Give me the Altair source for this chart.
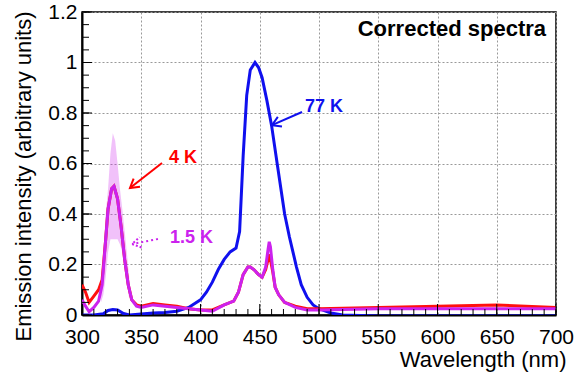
import altair as alt
import pandas as pd

FONT = "Liberation Sans"

# ---- 77 K spectrum (blue)
wl_77 = [300, 310, 318, 322, 326, 330, 335, 340, 350, 360, 370, 380, 390, 400, 405, 410,
         415, 420, 425, 430, 433, 436, 439, 442, 446, 449, 452, 456, 460, 465, 471, 475,
         478, 481, 485, 490, 495, 500, 510, 520, 550, 600, 650, 700]
int_77 = [0.0, 0.0, 0.005, 0.018, 0.022, 0.02, 0.006, 0.0, 0.004, 0.008, 0.01, 0.015, 0.03,
          0.06, 0.09, 0.13, 0.18, 0.22, 0.25, 0.265, 0.33, 0.63, 0.87, 0.97, 1.0, 0.98, 0.94,
          0.85, 0.75, 0.59, 0.4, 0.31, 0.25, 0.19, 0.12, 0.07, 0.04, 0.025, 0.008, 0.0,
          -0.004, -0.004, -0.004, -0.004]

# ---- 4 K (red) and 1.5 K (magenta) spectra share the wavelength grid
wl_low = [300, 303, 306, 310, 314, 317, 320, 322, 325, 327, 330, 333, 336, 339, 342, 346,
          350, 360, 370, 380, 390, 400, 410, 420, 428, 432, 436, 440, 442, 445, 449, 452,
          455, 457, 458, 459, 461, 463, 466, 471, 480, 490, 500, 550, 600, 650, 700]
int_4 = [0.12, 0.09, 0.05, 0.075, 0.1, 0.14, 0.3, 0.42, 0.5, 0.51, 0.46, 0.35, 0.22, 0.12,
         0.06, 0.04, 0.035, 0.045, 0.04, 0.035, 0.025, 0.02, 0.02, 0.04, 0.055, 0.09, 0.16,
         0.19, 0.19, 0.18, 0.16, 0.15, 0.18, 0.22, 0.24, 0.22, 0.17, 0.11, 0.08, 0.05, 0.035,
         0.025, 0.025, 0.03, 0.035, 0.04, 0.03]
int_15 = [0.06, 0.035, 0.013, 0.03, 0.055, 0.12, 0.3, 0.42, 0.5, 0.51, 0.46, 0.35, 0.22,
          0.12, 0.06, 0.035, 0.03, 0.04, 0.035, 0.03, 0.025, 0.02, 0.015, 0.04, 0.055, 0.09,
          0.16, 0.19, 0.19, 0.18, 0.16, 0.15, 0.19, 0.26, 0.29, 0.27, 0.18, 0.11, 0.08, 0.05,
          0.03, 0.02, 0.02, 0.025, 0.025, 0.025, 0.025]

# ---- 1.5 K uncertainty band (hatched in the original)
band_wl = [316, 318, 320, 322, 324, 326, 328, 330, 332, 334, 336, 338, 340]
band_lo = [0.05, 0.08, 0.15, 0.25, 0.3, 0.3, 0.3, 0.3, 0.28, 0.25, 0.2, 0.12, 0.06]
band_hi = [0.13, 0.24, 0.4, 0.5, 0.64, 0.72, 0.69, 0.6, 0.5, 0.42, 0.33, 0.24, 0.14]

# ---- axes
x_ticks = [300, 350, 400, 450, 500, 550, 600, 650, 700]
y_ticks = [0, 0.2, 0.4, 0.6, 0.8, 1.0, 1.2]
x_minor = list(range(300, 701, 10))
y_minor = [round(i * 0.05, 2) for i in range(25)]

# ---- annotations
lab_text = ["77 K", "4 K", "1.5 K"]
lab_x = [488.2, 373.4, 374.3]
lab_y = [0.805, 0.601, 0.284]
lab_color = ["#1010ee", "#ff0000", "#cc22ee"]
arr_x0 = [485.7, 367.5, 364.1]
arr_y0 = [0.804, 0.602, 0.301]
arr_x1 = [460.3, 340.5, 342.2]
arr_y1 = [0.752, 0.503, 0.281]
arr_angle = [156.6, 142.0, 169.0]
arr_dash = ["solid", "solid", "dotted"]
title_text = "Corrected spectra"

W, H = 474, 303
xs = alt.Scale(domain=[300, 700], nice=False, zero=False)
ys = alt.Scale(domain=[0, 1.2], nice=False, zero=False)

df77 = pd.DataFrame({"wl": wl_77, "v": int_77})
df4 = pd.DataFrame({"wl": wl_low, "v": int_4})
df15 = pd.DataFrame({"wl": wl_low, "v": int_15})
dfb = pd.DataFrame({"wl": band_wl, "lo": band_lo, "hi": band_hi})
dflab = pd.DataFrame({"t": lab_text, "x": lab_x, "y": lab_y, "c": lab_color})
dfarr = pd.DataFrame({"x0": arr_x0, "y0": arr_y0, "x1": arr_x1, "y1": arr_y1,
                      "a": arr_angle, "c": lab_color, "d": arr_dash})

x_axis = alt.Axis(values=x_ticks, title="Wavelength (nm)", labelFont=FONT, titleFont=FONT,
                  labelFontSize=21, titleFontSize=22, titleFontWeight="normal",
                  labelColor="black", titleColor="black", ticks=False, tickSize=0,
                  labelPadding=11, labelFlush=False, labelOverlap=False,
                  domainColor="black", domainWidth=2, grid=True, gridDash=[2, 2],
                  gridColor="#999999", gridWidth=1, titleAlign="right", titleAnchor="end",
                  titleX=484, titleY=51, titleBaseline="alphabetic")
y_axis = alt.Axis(values=y_ticks, format="~g", title="Emission intensity (arbitrary units)",
                  labelFont=FONT, titleFont=FONT, labelFontSize=21, titleFontSize=22,
                  titleFontWeight="normal", labelColor="black", titleColor="black",
                  ticks=False, tickSize=0, labelPadding=5, labelOverlap=False,
                  domainColor="black", domainWidth=2, grid=True, gridDash=[2, 2],
                  gridColor="#999999", gridWidth=1, titleAlign="center", titleAngle=270,
                  titleX=-52, titleY=164, titleBaseline="alphabetic")


def X(field):
    return alt.X(field, scale=xs, axis=x_axis)


def Y(field):
    return alt.Y(field, scale=ys, axis=y_axis)


band = alt.Chart(dfb).mark_area(color="#cc22ee", opacity=0.28).encode(
    x=X("wl:Q"), y=Y("lo:Q"), y2="hi:Q")


def spectrum(df, color):
    return alt.Chart(df).mark_line(color=color, strokeWidth=3, clip=True).encode(
        x=X("wl:Q"), y=Y("v:Q"))


l77 = spectrum(df77, "#1010ee")
l4 = spectrum(df4, "#ff1010")
l15 = spectrum(df15, "#cc22ee")

xmin = alt.Chart(pd.DataFrame({"t": x_minor})).mark_rule(color="black", strokeWidth=1).encode(
    x=X("t:Q"), y=alt.value(H), y2=alt.value(H - 6))
xmaj = alt.Chart(pd.DataFrame({"t": x_ticks})).mark_rule(color="black", strokeWidth=1).encode(
    x=X("t:Q"), y=alt.value(H), y2=alt.value(H - 11))
ymin = alt.Chart(pd.DataFrame({"t": y_minor})).mark_rule(color="black", strokeWidth=1).encode(
    y=Y("t:Q"), x=alt.value(0), x2=alt.value(7))
ymaj = alt.Chart(pd.DataFrame({"t": y_ticks})).mark_rule(color="black", strokeWidth=1).encode(
    y=Y("t:Q"), x=alt.value(0), x2=alt.value(10))

labels = alt.Chart(dflab).mark_text(font=FONT, fontSize=18, fontWeight="bold", align="left",
                                    baseline="alphabetic").encode(
    x=X("x:Q"), y=Y("y:Q"), text="t:N", color=alt.Color("c:N", scale=None))

solid = alt.datum.d == "solid"
arrows = alt.Chart(dfarr).mark_rule(strokeWidth=2).encode(
    x=X("x0:Q"), y=Y("y0:Q"), x2="x1:Q", y2="y1:Q", color=alt.Color("c:N", scale=None)
).transform_filter(solid)
arrows_dot = alt.Chart(dfarr).mark_rule(strokeWidth=2, strokeDash=[2, 3]).encode(
    x=X("x0:Q"), y=Y("y0:Q"), x2="x1:Q", y2="y1:Q", color=alt.Color("c:N", scale=None)
).transform_filter(~solid)
heads = alt.Chart(dfarr).mark_point(shape="M -1 -0.6 L 0 0 L -1 0.6", filled=False,
                                    size=300, strokeWidth=2, opacity=1).encode(
    x=X("x1:Q"), y=Y("y1:Q"),
    angle=alt.Angle("a:Q", scale=None), color=alt.Color("c:N", scale=None)
).transform_filter(solid)
heads_dot = alt.Chart(dfarr).mark_point(shape="M -1 -0.6 L 0 0 L -1 0.6", filled=False,
                                        size=300, strokeWidth=2, opacity=1,
                                        strokeDash=[2, 2]).encode(
    x=X("x1:Q"), y=Y("y1:Q"),
    angle=alt.Angle("a:Q", scale=None), color=alt.Color("c:N", scale=None)
).transform_filter(~solid)

title = alt.Chart(pd.DataFrame({"t": [title_text], "x": [691.6], "y": [1.105]})).mark_text(
    font=FONT, fontSize=22, fontWeight="bold", align="right", baseline="alphabetic",
    color="black").encode(x=X("x:Q"), y=Y("y:Q"), text="t:N")

chart = alt.layer(band, l77, l4, l15, xmin, xmaj, ymin, ymaj, arrows, arrows_dot, heads,
                  heads_dot, labels, title).properties(
    width=W, height=H,
    padding={"left": 82, "top": 12, "right": 26, "bottom": 61},
    autosize=alt.AutoSizeParams(type="none"),
    background="white",
).configure_view(stroke="black", strokeWidth=1.5)

chart.save("out.html", embed_options={"renderer": "svg", "actions": False})
